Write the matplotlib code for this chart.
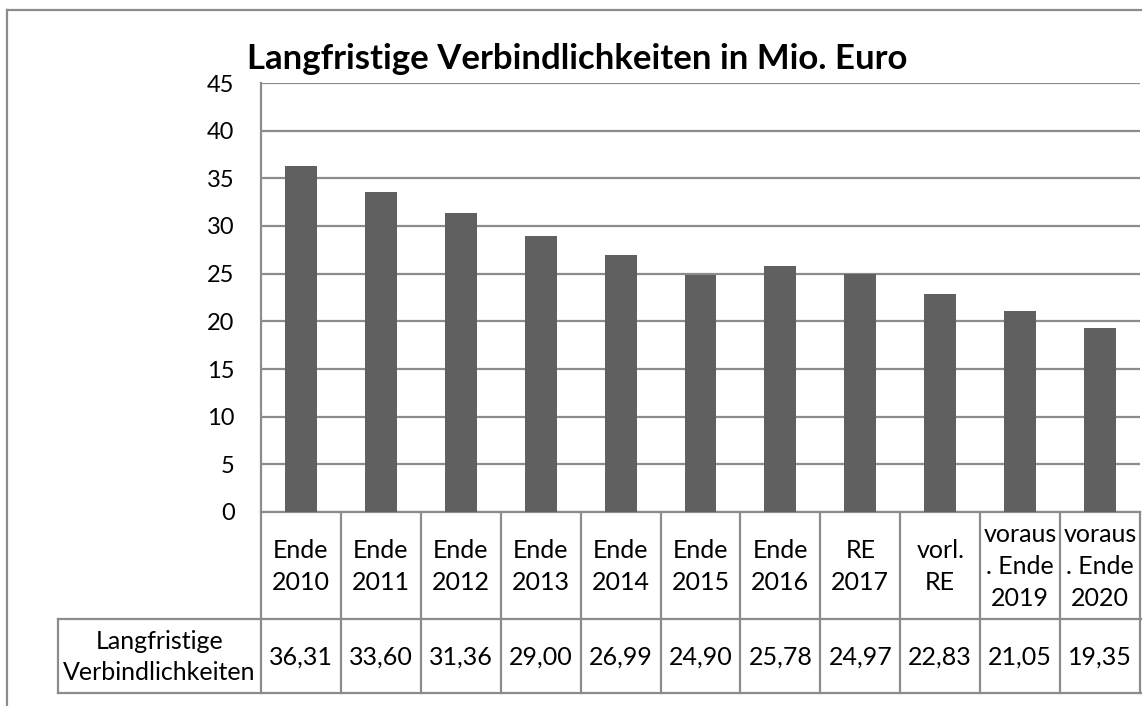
import matplotlib
matplotlib.use("Agg")
import matplotlib.pyplot as plt
import matplotlib.transforms as mtransforms

plt.rcParams['font.family'] = ['Lato', 'DejaVu Sans']

kategorien = ["Ende\n2010", "Ende\n2011", "Ende\n2012", "Ende\n2013", "Ende\n2014",
              "Ende\n2015", "Ende\n2016", "RE\n2017", "vorl.\nRE",
              "voraus\n. Ende\n2019", "voraus\n. Ende\n2020"]
werte = [36.31, 33.60, 31.36, 29.00, 26.99, 24.90, 25.78, 24.97, 22.83, 21.05, 19.35]
reihe = "Langfristige\nVerbindlichkeiten"
titel = "Langfristige Verbindlichkeiten in Mio. Euro"
y_ticks = [0, 5, 10, 15, 20, 25, 30, 35, 40, 45]

W, H = 1142, 706
linie = "#8c8c8c"
balken = "#606060"

fig = plt.figure(figsize=(W / 100, H / 100), dpi=100)

# Overlay in Pixelkoordinaten fuer Rahmen und Tabelle
ov = fig.add_axes([0, 0, 1, 1])
ov.set_xlim(0, W)
ov.set_ylim(H, 0)
ov.axis("off")

# Plotbereich: links 261, rechts 1140, oben 83, unten 512 (Pixel)
x0, x1, y0, y1 = 261, 1140, 83, 512
ax = fig.add_axes([x0 / W, 1 - y1 / H, (x1 - x0) / W, (y1 - y0) / H])
n = len(kategorien)
pos = list(range(n))
ax.bar(pos, werte, width=0.4, color=balken, zorder=3)
ax.set_xlim(-0.5, n - 0.5)
ax.set_ylim(0, 45)
ax.set_yticks(y_ticks)
ax.set_yticklabels([str(t) for t in y_ticks], fontsize=17)
ax.set_xticks([])
ax.tick_params(axis="y", length=0, pad=19)
ax.grid(axis="y", color=linie, linewidth=1.6, zorder=0)
for s in ["top", "right"]:
    ax.spines[s].set_visible(False)
for s in ["left", "bottom"]:
    ax.spines[s].set_color(linie)
    ax.spines[s].set_linewidth(1.6)

ax.set_title(titel, fontsize=25, fontweight="bold", pad=10, x=0.36)

# Tabelle unter dem Diagramm
tr = mtransforms.blended_transform_factory(ax.transData, ov.transData)
r0, r1, r2 = 512, 619, 693
for i in range(n + 1):
    ov.plot([i - 0.5, i - 0.5], [r0, r2], color=linie, lw=1.6, transform=tr)
ov.plot([58, W], [r1, r1], color=linie, lw=1.6)
ov.plot([58, W], [r2, r2], color=linie, lw=1.6)
ov.plot([58, 58], [r1, r2], color=linie, lw=1.6)

for i, (k, v) in enumerate(zip(kategorien, werte)):
    ov.text(i, (r0 + r1) / 2 + 1, k, transform=tr, ha="center", va="center",
            fontsize=18, linespacing=1.45)
    ov.text(i, (r1 + r2) / 2 + 1, f"{v:.2f}".replace(".", ","), transform=tr,
            ha="center", va="center", fontsize=18)
ov.text((58 + 261) / 2, (r1 + r2) / 2 + 1, reihe, ha="center", va="center",
        fontsize=18, linespacing=1.4)

# Aeusserer Rahmen
ov.plot([7, 7], [10, H], color=linie, lw=1.6)
ov.plot([7, W], [10, 10], color=linie, lw=1.6)

fig.savefig("out.png", dpi=100)
